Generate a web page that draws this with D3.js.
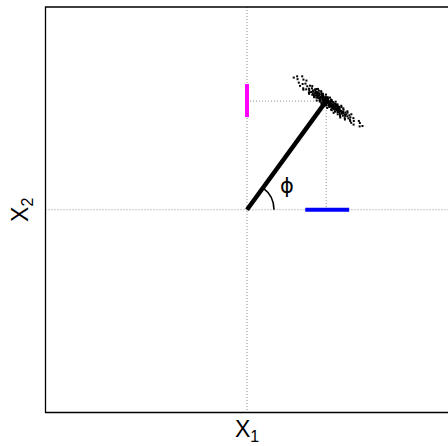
<!DOCTYPE html>
<html>
<head>
<meta charset="utf-8">
<script src="https://cdn.jsdelivr.net/npm/d3@7"></script>
<style>
  body { margin: 0; background: #fff; }
  svg { display: block; font-family: "Liberation Sans", Arial, sans-serif; }
</style>
</head>
<body>
<div id="chart"></div>
<script>
const width = 448;
const height = 446;
const margin = { top: 7, right: 0, bottom: 34, left: 46 };

// rod tip (x1, x2) and the marginal ranges
const tip = [0.393, 0.536];
const x1Range = [0.289, 0.507];
const x2Range = [0.457, 0.62];

// sample cloud around the tip
const cloudX1 = [
  0.249, 0.251, 0.257, 0.280, 0.276, 0.290, 0.279, 0.299, 0.294, 0.313,
  0.308, 0.309, 0.322, 0.314, 0.327, 0.321, 0.338, 0.329, 0.327, 0.339,
  0.340, 0.334, 0.341, 0.347, 0.339, 0.348, 0.349, 0.346, 0.359, 0.350,
  0.357, 0.360, 0.355, 0.370, 0.365, 0.362, 0.372, 0.363, 0.373, 0.379,
  0.374, 0.380, 0.381, 0.375, 0.388, 0.382, 0.389, 0.395, 0.390, 0.396,
  0.397, 0.391, 0.404, 0.398, 0.405, 0.411, 0.406, 0.412, 0.413, 0.407,
  0.420, 0.414, 0.421, 0.430, 0.422, 0.428, 0.429, 0.423, 0.436, 0.430,
  0.437, 0.443, 0.438, 0.444, 0.445, 0.436, 0.452, 0.446, 0.453, 0.459,
  0.451, 0.460, 0.462, 0.459, 0.469, 0.460, 0.470, 0.479, 0.471, 0.477,
  0.478, 0.476, 0.488, 0.486, 0.493, 0.487, 0.485, 0.498, 0.508, 0.503,
  0.513, 0.512, 0.528, 0.530, 0.529, 0.555, 0.559, 0.573, 0.390, 0.402,
  0.396, 0.380, 0.426, 0.378, 0.438, 0.344, 0.450, 0.357, 0.469, 0.462,
  0.324, 0.308, 0.352, 0.333, 0.368, 0.346, 0.377, 0.361, 0.392, 0.370,
  0.412, 0.389, 0.421, 0.398, 0.440, 0.421, 0.449, 0.430, 0.468, 0.450,
  0.478, 0.463, 0.498, 0.486, 0.518, 0.511, 0.280, 0.295, 0.274, 0.263,
  0.401, 0.381, 0.417, 0.369, 0.408, 0.360, 0.417, 0.369, 0.458, 0.324,
  0.461, 0.307, 0.499, 0.517, 0.560, 0.232, 0.355, 0.351, 0.371, 0.364,
  0.387, 0.383, 0.403, 0.392, 0.418, 0.416, 0.415, 0.431, 0.442, 0.431,
  0.451, 0.440, 0.454, 0.332, 0.345, 0.394
];
const cloudX2 = [
  0.658, 0.644, 0.627, 0.642, 0.620, 0.622, 0.599, 0.609, 0.594, 0.612,
  0.597, 0.590, 0.599, 0.580, 0.589, 0.581, 0.594, 0.582, 0.571, 0.587,
  0.580, 0.572, 0.574, 0.582, 0.563, 0.575, 0.568, 0.564, 0.573, 0.561,
  0.562, 0.566, 0.551, 0.571, 0.556, 0.552, 0.557, 0.545, 0.550, 0.558,
  0.544, 0.552, 0.545, 0.537, 0.546, 0.538, 0.539, 0.547, 0.532, 0.540,
  0.533, 0.525, 0.534, 0.526, 0.527, 0.535, 0.520, 0.528, 0.522, 0.514,
  0.523, 0.515, 0.516, 0.528, 0.509, 0.517, 0.510, 0.502, 0.511, 0.503,
  0.504, 0.512, 0.497, 0.505, 0.498, 0.486, 0.500, 0.492, 0.493, 0.501,
  0.482, 0.494, 0.487, 0.483, 0.488, 0.476, 0.481, 0.493, 0.474, 0.482,
  0.475, 0.464, 0.480, 0.470, 0.471, 0.463, 0.452, 0.461, 0.466, 0.451,
  0.456, 0.438, 0.452, 0.438, 0.420, 0.438, 0.411, 0.413, 0.557, 0.548,
  0.515, 0.527, 0.531, 0.565, 0.522, 0.553, 0.513, 0.587, 0.506, 0.462,
  0.610, 0.572, 0.596, 0.555, 0.585, 0.539, 0.572, 0.534, 0.568, 0.522,
  0.553, 0.514, 0.540, 0.502, 0.533, 0.491, 0.520, 0.478, 0.513, 0.471,
  0.500, 0.455, 0.486, 0.445, 0.471, 0.445, 0.592, 0.637, 0.658, 0.611,
  0.555, 0.520, 0.543, 0.529, 0.507, 0.541, 0.494, 0.578, 0.508, 0.567,
  0.469, 0.579, 0.479, 0.429, 0.428, 0.652, 0.576, 0.554, 0.564, 0.538,
  0.553, 0.531, 0.541, 0.518, 0.536, 0.526, 0.508, 0.521, 0.519, 0.496,
  0.506, 0.484, 0.486, 0.562, 0.595, 0.554
];

const svg = d3
  .select("#chart")
  .append("svg")
  .attr("width", width)
  .attr("height", height);

const x = d3.scaleLinear().domain([-1, 1]).range([margin.left - 0.5, width + 0.5]);
const y = d3.scaleLinear().domain([-1, 1]).range([height - margin.bottom + 0.5, margin.top]);

const xLeft = x(-1), xRight = x(1), yTop = y(1), yBottom = y(-1);

// dotted reference lines
function dline(x1, y1, x2, y2) {
  svg.append("line")
    .attr("x1", x1).attr("y1", y1).attr("x2", x2).attr("y2", y2)
    .attr("stroke", "#8c8c8c")
    .attr("stroke-width", 1)
    .attr("stroke-dasharray", "1,2");
}
dline(xLeft, y(0), xRight, y(0));
dline(x(0), yTop, x(0), yBottom);
dline(x(0), y(tip[1]), x(tip[0]), y(tip[1]));
dline(x(tip[0]), y(tip[1]), x(tip[0]), y(0));

// frame (left, top, bottom)
svg.append("path")
  .attr("d", `M${width},${yTop}H${xLeft}V${yBottom}H${width}`)
  .attr("fill", "none")
  .attr("stroke", "#000")
  .attr("stroke-width", 1.3);

// marginal bars
svg.append("line")
  .attr("x1", x(x1Range[0])).attr("x2", x(x1Range[1]))
  .attr("y1", y(0)).attr("y2", y(0))
  .attr("stroke", "#0000ff").attr("stroke-width", 4);
svg.append("line")
  .attr("x1", x(0)).attr("x2", x(0))
  .attr("y1", y(x2Range[0])).attr("y2", y(x2Range[1]))
  .attr("stroke", "#ff00ff").attr("stroke-width", 4);

// angle arc
const ang = Math.atan2(y(0) - y(tip[1]), x(tip[0]) - x(0));
const rArc = 27;
const arcPath = d3.path();
arcPath.arc(0, 0, rArc, 0, -ang, true);
svg.append("path")
  .attr("transform", `translate(${x(0)},${y(0)})`)
  .attr("d", arcPath.toString())
  .attr("fill", "none")
  .attr("stroke", "#000")
  .attr("stroke-width", 1.6);

svg.append("text")
  .attr("x", x(0) + 40)
  .attr("y", y(0) - 17)
  .attr("text-anchor", "middle")
  .attr("font-family", "DejaVu Sans")
  .attr("font-size", 21)
  .text("ϕ");

// rod
svg.append("line")
  .attr("x1", x(0)).attr("y1", y(0))
  .attr("x2", x(tip[0])).attr("y2", y(tip[1]))
  .attr("stroke", "#000").attr("stroke-width", 4.5);

// cloud
svg.append("g")
  .selectAll("rect")
  .data(d3.range(cloudX1.length))
  .join("rect")
  .attr("x", (i) => x(cloudX1[i]) - 1)
  .attr("y", (i) => y(cloudX2[i]) - 1)
  .attr("width", 2)
  .attr("height", 2)
  .attr("fill", "#000");

// axis labels
const xl = svg.append("text")
  .attr("x", x(0))
  .attr("y", 437)
  .attr("text-anchor", "middle")
  .attr("font-size", 23);
xl.append("tspan").text("X");
xl.append("tspan").attr("font-size", 16).attr("dy", 5).text("1");

const yl = svg.append("text")
  .attr("transform", `translate(28,${y(0)}) rotate(-90)`)
  .attr("text-anchor", "middle")
  .attr("font-size", 23);
yl.append("tspan").text("X");
yl.append("tspan").attr("font-size", 16).attr("dy", 5).text("2");
</script>
</body>
</html>
